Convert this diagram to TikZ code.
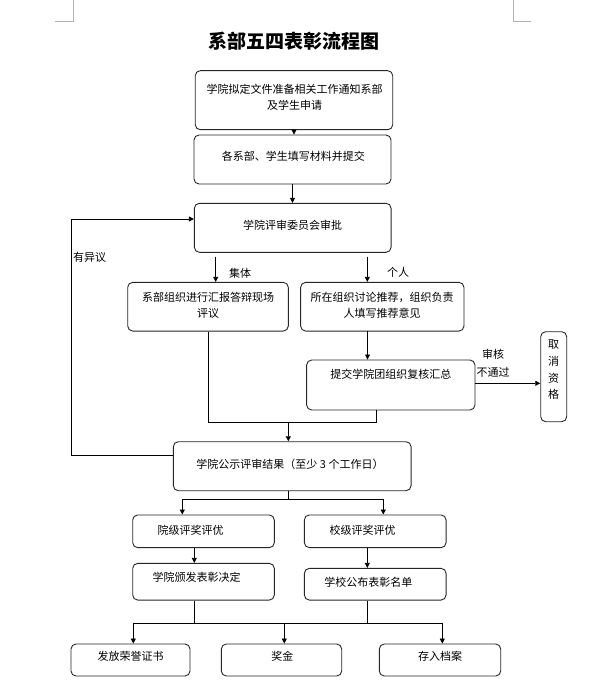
\documentclass[tikz,border=0pt]{standalone}
\usepackage{fontspec}
\setmainfont{Noto Sans CJK SC}
\usetikzlibrary{arrows.meta}
\tikzset{
  box/.style={draw=black!85, line width=0.9pt, rounded corners=5pt, inner sep=0pt},
  txt/.style={font=\fontsize{11}{16}\selectfont, align=center, inner sep=0pt},
  lbl/.style={font=\fontsize{11}{18}\selectfont, align=center, inner sep=0pt},
  arr/.style={line width=0.8pt, -{Triangle[length=5pt,width=5pt]}},
  ln/.style={line width=0.8pt},
  mark/.style={draw=black!30, line width=0.8pt}
}
\begin{document}
\begin{tikzpicture}[x=1pt,y=-1pt]
\path[use as bounding box] (0,0) rectangle (595,687);
% page corner marks
\draw[black!30, line width=0.8pt] (55,21.7) -- (73.6,21.7) -- (73.6,0);
\draw[black!30, line width=0.8pt] (513,0) -- (513,21.7) -- (531,21.7);
% title
\node[inner sep=0pt, font=\fontsize{19}{20}\selectfont\bfseries] (title) at (293.7,40.8) {系部五四表彰流程图};
% boxes
\node[box, minimum width=197.5pt, minimum height=59pt] (b1) at (294,100.2) {};
\node[box, minimum width=197pt, minimum height=49pt] (b2) at (292.5,159.5) {};
\node[box, minimum width=196.7pt, minimum height=49pt] (b3) at (292.7,227.8) {};
\node[box, minimum width=160.6pt, minimum height=48.7pt] (b4) at (208,306.7) {};
\node[box, minimum width=163.3pt, minimum height=48.7pt] (b5) at (382.3,306.7) {};
\node[box, minimum width=168.3pt, minimum height=50pt] (b6) at (390.8,385) {};
\node[box, minimum width=26pt, minimum height=90pt] (b7) at (553.7,376.7) {};
\node[box, minimum width=237.7pt, minimum height=49pt] (b8) at (292.2,466.2) {};
\node[box, minimum width=141.6pt, minimum height=32.7pt] (b9) at (203.5,531.3) {};
\node[box, minimum width=141.7pt, minimum height=32.7pt] (b10) at (375.2,531.3) {};
\node[box, minimum width=141.6pt, minimum height=36.7pt] (b11) at (203.5,581.7) {};
\node[box, minimum width=141.7pt, minimum height=31.7pt] (b12) at (375.2,584.2) {};
\node[box, minimum width=119pt, minimum height=32pt] (b13) at (130.5,660) {};
\node[box, minimum width=120.4pt, minimum height=32pt] (b14) at (281.5,660) {};
\node[box, minimum width=121.4pt, minimum height=32pt] (b15) at (440,660) {};
% texts
\node[txt] (t1) at (294.5,97) {学院拟定文件准备相关工作通知系部\\及学生申请};
\node[txt] (t2) at (293.3,156) {各系部、学生填写材料并提交};
\node[txt] (t3) at (292.7,225.7) {学院评审委员会审批};
\node[txt] (t4) at (208,305.3) {系部组织进行汇报答辩现场\\评议};
\node[txt] (t5) at (382,305.3) {所在组织讨论推荐，组织负责\\人填写推荐意见};
\node[txt] (t6) at (390.8,374) {提交学院团组织复核汇总};
\node[txt, font=\fontsize{11}{16.7}\selectfont] (t7) at (553.5,370) {取\\消\\资\\格};
\node[txt] (t8) at (290,464) {学院公示评审结果（至少 3 个工作日）};
\node[txt] (t9) at (190.5,530) {院级评奖评优};
\node[txt] (t10) at (362.5,530) {校级评奖评优};
\node[txt] (t11) at (196.7,577.7) {学院颁发表彰决定};
\node[txt] (t12) at (368.3,582.7) {学校公布表彰名单};
\node[txt] (t13) at (130.5,656.7) {发放荣誉证书};
\node[txt] (t14) at (282.3,656.7) {奖金};
\node[txt] (t15) at (440,656.7) {存入档案};
% labels
\node[lbl, anchor=west] (l1) at (73,257.7) {有异议};
\node[lbl] (l2) at (240,273.3) {集体};
\node[lbl] (l3) at (398,272.3) {个人};
\node[lbl] (l4) at (493,363.3) {审核\\不通过};
% helper coordinates
\coordinate (a1) at (215.7,256.7);
\coordinate (a2) at (367.3,256.7);
\coordinate (c5) at (367.5,331);
\coordinate (j1) at (376,422);
\coordinate (k1) at (288.3,422);
\coordinate (lp1) at (71.7,455);
\coordinate (lp2) at (71.7,219);
\coordinate (s0) at (288.3,490.7);
\coordinate (s1) at (288.3,499);
\coordinate (s2) at (182.3,499);
\coordinate (s3) at (383.3,499);
\coordinate (d9) at (194.3,547.7);
\coordinate (d10) at (367.3,547.7);
\coordinate (h1) at (194.3,623.3);
\coordinate (h2) at (367.3,623.3);
\coordinate (h3) at (133.3,623.3);
\coordinate (h4) at (284.3,623.3);
\coordinate (h5) at (442.3,623.3);
% connectors
\draw[arr] (b1.south) -- (b1.south |- b2.north);
\draw[arr] (b2.south) -- (b2.south |- b3.north);
\draw[arr] (a1) -- (a1 |- b4.north);
\draw[arr] (a2) -- (a2 |- b5.north);
\draw[arr] (c5) -- (c5 |- b6.north);
\draw[arr] (b6.east |- 0,383.3) -- (b7.west |- 0,383.3);
\draw[ln] (b4.south) |- (j1) -- (j1 |- b6.south);
\draw[arr] (k1) -- (k1 |- b8.north);
\draw[arr] (b8.west |- lp1) -- (lp1) -- (lp2) -- (b3.west |- lp2);
\draw[ln] (s0) -- (s1);
\draw[ln] (s2) -- (s3);
\draw[arr] (s2) -- (s2 |- b9.north);
\draw[arr] (s3) -- (s3 |- b10.north);
\draw[arr] (d9) -- (d9 |- b11.north);
\draw[arr] (d10) -- (d10 |- b12.north);
\draw[ln] (d9 |- b11.south) -- (h1);
\draw[ln] (d10 |- b12.south) -- (h2);
\draw[ln] (h3) -- (h5);
\draw[arr] (h3) -- (h3 |- b13.north);
\draw[arr] (h4) -- (h4 |- b14.north);
\draw[arr] (h5) -- (h5 |- b15.north);
\end{tikzpicture}
\end{document}
